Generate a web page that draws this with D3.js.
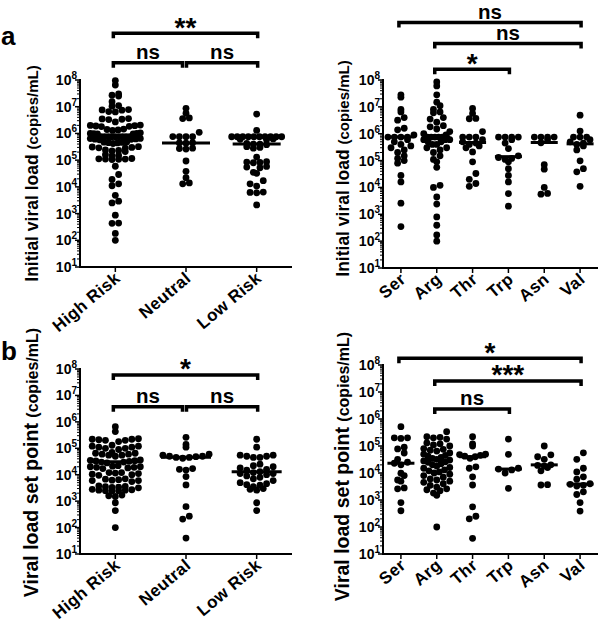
<!DOCTYPE html>
<html><head><meta charset="utf-8">
<script src="https://cdn.jsdelivr.net/npm/d3@7"></script>
<style>body{margin:0;background:#fff}svg{display:block}</style>
</head><body><svg id="c" width="600" height="622"></svg>
<script>
// ---------- categories & ticks ----------
const riskCats = ["High Risk", "Neutral", "Low Risk"];
const aaCats = ["Ser", "Arg", "Thr", "Trp", "Asn", "Val"];
const tickExps = [1, 2, 3, 4, 5, 6, 7, 8];

// ---------- panel a: initial viral load (copies/mL) ----------
const aHigh = [9.5e7, 6.5e7, 3.0e7, 2.7e7, 2.5e7, 1.55e7, 1.1e7, 1.05e7, 7.8e6, 7.6e6, 7.4e6, 6.6e6, 6.4e6, 3.6e6, 3.5e6, 3.4e6, 3.3e6, 2.7e6, 2.05e6, 2.0e6, 1.95e6, 1.9e6, 1.85e6, 1.8e6, 1.45e6, 1.4e6, 1.35e6, 1.3e6, 1.05e6, 1.0e6, 1.0e6, 9.8e5, 9.6e5, 9.5e5, 7.5e5, 7.5e5, 7.5e5, 7.5e5, 7.5e5, 7.5e5, 7.5e5, 7.5e5, 7.5e5, 6.5e5, 6.4e5, 6.2e5, 6.1e5, 6.0e5, 5.8e5, 4.8e5, 4.7e5, 4.6e5, 4.5e5, 4.4e5, 4.2e5, 3.2e5, 3.1e5, 3.0e5, 2.9e5, 2.8e5, 2.4e5, 2.3e5, 2.2e5, 2.1e5, 1.6e5, 1.5e5, 1.45e5, 1.15e5, 1.12e5, 1.1e5, 1.1e5, 1.08e5, 1.05e5, 5.9e4, 2.9e4, 1.9e4, 1.3e4, 1.1e4, 4.8e3, 2.9e3, 2.5e3, 8.7e2, 4.4e2, 4.3e2, 1.8e2, 1.0e2];
const aNeutral = [8.7e6, 5.7e6, 3.8e6, 3.6e6, 1.1e6, 7.6e5, 7.5e5, 7.5e5, 7.5e5, 4.5e5, 4.4e5, 4.3e5, 2.8e5, 2.7e5, 2.6e5, 9.3e4, 3.8e4, 2.2e4, 1.4e4, 1.3e4];
const aLow = [5.3e6, 1.3e6, 7.5e5, 7.5e5, 7.5e5, 7.5e5, 7.5e5, 7.5e5, 7.5e5, 7.5e5, 7.5e5, 7.5e5, 6.2e5, 6.0e5, 5.8e5, 4.2e5, 4.0e5, 4.0e5, 3.8e5, 3.2e5, 3.0e5, 2.8e5, 1.3e5, 8.8e4, 8.5e4, 8.2e4, 8.0e4, 5.8e4, 5.5e4, 5.2e4, 3.5e4, 3.2e4, 1.7e4, 1.3e4, 1.07e4, 6.4e3, 6.2e3, 6.0e3, 2.1e3];
const aRiskMedians = [7.5e5, 4.4e5, 4.0e5];

const aSer = [2.8e7, 2.3e7, 8e6, 6.5e6, 4e6, 3.2e6, 1.6e6, 1.4e6, 9e5, 7.5e5, 7.5e5, 7.5e5, 7.5e5, 6e5, 5e5, 4e5, 3.5e5, 3e5, 2.5e5, 2e5, 1.5e5, 1.2e5, 1e5, 8e4, 2.8e4, 1.6e4, 2.6e3, 3.5e2];
const aArg = [8.5e7, 6e7, 2.8e7, 1.5e7, 1.1e7, 8e6, 6.5e6, 6e6, 4e6, 3.5e6, 2.7e6, 2e6, 1.8e6, 1.5e6, 1.2e6, 1e6, 9e5, 7.5e5, 7.5e5, 7.5e5, 7.5e5, 7.5e5, 6e5, 6e5, 6e5, 5e5, 5e5, 4e5, 4e5, 3e5, 3e5, 2.5e5, 2e5, 1.5e5, 1.1e5, 9e4, 5.6e4, 1.2e4, 1e4, 4.4e3, 2.4e3, 8e2, 3.9e2, 1.7e2, 1e2];
const aThr = [8.7e6, 5.7e6, 3.7e6, 3.6e6, 1.2e6, 7.5e5, 7.5e5, 7.5e5, 6e5, 5e5, 4.5e5, 4e5, 3.5e5, 3e5, 2.1e5, 9e4, 3.3e4, 2e4, 1.4e4, 1.1e4];
const aTrp = [7.5e5, 7.5e5, 7.5e5, 7.5e5, 6e5, 4.5e5, 2.8e5, 1.5e5, 1.3e5, 1.2e5, 1.1e5, 9e4, 5e4, 2.8e4, 1.6e4, 5.9e3, 2e3];
const aAsn = [7.5e5, 7.5e5, 7.5e5, 7.5e5, 6e5, 4.6e5, 7e4, 4.8e4, 1e4, 6e3, 5.6e3];
const aVal = [4.9e6, 1.25e6, 7.5e5, 7.5e5, 7.5e5, 6e5, 5e5, 4.5e5, 4e5, 3.5e5, 2.5e5, 9.8e4, 5e4, 3.8e4, 1.1e4];
const aAAMedians = [7.6e5, 7.6e5, 4.7e5, 1.4e5, 4.7e5, 4.2e5];

// ---------- panel b: viral load set point (copies/mL) ----------
const bHigh = [6.6e5, 4.3e5, 2.3e5, 2.2e5, 2.2e5, 2.1e5, 2.0e5, 2.0e5, 1.8e5, 1.3e5, 1.2e5, 1.2e5, 1.1e5, 1.1e5, 1.0e5, 1.0e5, 9e4, 7e4, 6.5e4, 6.5e4, 6e4, 6e4, 5.5e4, 5.5e4, 5e4, 3.6e4, 3.5e4, 3.4e4, 3.3e4, 3.2e4, 3e4, 3e4, 2.8e4, 2.2e4, 2.1e4, 2e4, 2e4, 1.9e4, 1.9e4, 1.8e4, 1.7e4, 1.2e4, 1.2e4, 1.15e4, 1.1e4, 1.05e4, 1e4, 9.5e3, 7e3, 6.8e3, 6.5e3, 6.2e3, 6e3, 6e3, 5.5e3, 3.8e3, 3.6e3, 3.5e3, 3.4e3, 3.3e3, 3.2e3, 2.8e3, 2.7e3, 2.6e3, 2.6e3, 2.5e3, 2.5e3, 2.4e3, 1.7e3, 1.6e3, 1.5e3, 8.7e2, 4.4e2, 1e2];
const bNeutral = [2.6e5, 1.4e5, 1.1e5, 6e4, 5.5e4, 5e4, 5e4, 4.8e4, 4.5e4, 4.5e4, 4.2e4, 1.7e4, 1.6e4, 1.5e4, 8.5e3, 4.1e3, 6.2e2, 2.7e2, 2.1e2, 4e1];
const bLow = [2.2e5, 1.1e5, 5.5e4, 5.5e4, 5e4, 5e4, 4.5e4, 4.5e4, 2.5e4, 2.2e4, 2e4, 1.8e4, 1.6e4, 1.5e4, 1.3e4, 1.2e4, 1.1e4, 1.1e4, 1e4, 9e3, 8e3, 7e3, 6e3, 5e3, 4.6e3, 4.2e3, 4e3, 3.5e3, 3e3, 2.8e3, 2.6e3, 8.7e2, 4.4e2];
const bRiskMedians = [3.1e4, 4.6e4, 1.3e4];

const bSer = [5.2e5, 2e5, 2e5, 1.9e5, 9e4, 7.8e4, 5.5e4, 3.2e4, 2.5e4, 2.3e4, 2e4, 9.8e3, 8e3, 5.5e3, 5e3, 2.8e3, 2.6e3, 8e2, 4e2];
const bArg = [3.4e5, 2.2e5, 2.1e5, 2e5, 1.8e5, 1.3e5, 1.2e5, 1.1e5, 1e5, 8e4, 7.5e4, 7e4, 6.5e4, 5.5e4, 5e4, 4.5e4, 4.2e4, 3.8e4, 3.5e4, 3.2e4, 3e4, 2.8e4, 2.6e4, 2.5e4, 2.2e4, 2e4, 1.8e4, 1.6e4, 1.5e4, 1.3e4, 1.2e4, 1.1e4, 1e4, 9e3, 8e3, 7e3, 6e3, 5.5e3, 5e3, 4.5e3, 4e3, 3.5e3, 3e3, 2.6e3, 2.4e3, 2.2e3, 1.8e3, 1.5e3, 1e2];
const bThr = [2.2e5, 1.2e5, 1e5, 5e4, 4.8e4, 4.5e4, 4.2e4, 4e4, 3.5e4, 1.7e4, 1.5e4, 7.2e3, 3.6e3, 5.6e2, 2.5e2, 2e2, 3.8e1];
const bTrp = [1.8e5, 4.9e4, 1.5e4, 1.4e4, 1.3e4, 1e4, 2.7e3];
const bAsn = [1e5, 4.7e4, 4e4, 3.2e4, 2e4, 1.9e4, 1.8e4, 1.6e4, 1.2e4, 3.7e3, 3.6e3];
const bVal = [5.6e4, 3.2e4, 1.5e4, 1.1e4, 7.2e3, 5.9e3, 4e3, 3.8e3, 3.5e3, 3.3e3, 2e3, 1.6e3, 8e2, 3.9e2];
const bAAMedians = [2.3e4, 3e4, 4e4, 1.4e4, 2e4, 3.9e3];

// ---------- significance brackets ----------
const aRiskBrackets = [{from: 0, to: 2, label: "**", level: 0}, {from: 0, to: 1, label: "ns", level: 1}, {from: 1, to: 2, label: "ns", level: 1}];
const aAABrackets = [{from: 0, to: 5, label: "ns", level: 0}, {from: 1, to: 5, label: "ns", level: 1}, {from: 1, to: 3, label: "*", level: 2}];
const bRiskBrackets = [{from: 0, to: 2, label: "*", level: 0}, {from: 0, to: 1, label: "ns", level: 1}, {from: 1, to: 2, label: "ns", level: 1}];
const bAABrackets = [{from: 0, to: 5, label: "*", level: 0}, {from: 1, to: 5, label: "***", level: 1}, {from: 1, to: 3, label: "ns", level: 2}];

// ---------- layout ----------
const FONT = "'Liberation Sans', Arial, Helvetica, sans-serif";
const panels = [
  {letter: "a", letterY: 45, x0: 80, x1: 292, yTop: 80, yBot: 267, cats: riskCats, data: [aHigh, aNeutral, aLow], medians: aRiskMedians, brackets: aRiskBrackets, bracketYs: [33.3, 62.7], title: ["Initial viral load", "(copies/mL)"], titleX: 38, titleY: 173.5, titleSizes: [17.5, 15], maxW: 50, medW: 48},
  {x0: 383, x1: 598, yTop: 80, yBot: 268, cats: aaCats, data: [aSer, aArg, aThr, aTrp, aAsn, aVal], medians: aAAMedians, brackets: aAABrackets, bracketYs: [22.5, 43.5, 69.3], title: ["Initial viral load", "(copies/mL)"], titleX: 349, titleY: 168.5, titleSizes: [17.5, 15], maxW: 26, medW: 27},
  {letter: "b", letterY: 360, x0: 80, x1: 292, yTop: 369, yBot: 554, cats: riskCats, data: [bHigh, bNeutral, bLow], medians: bRiskMedians, brackets: bRiskBrackets, bracketYs: [375, 406.7], title: ["Viral load set point", "(copies/mL)"], titleX: 38, titleY: 462.5, titleSizes: [19.5, 16], maxW: 50, medW: 50},
  {x0: 383, x1: 598, yTop: 365, yBot: 554, cats: aaCats, data: [bSer, bArg, bThr, bTrp, bAsn, bVal], medians: bAAMedians, brackets: bAABrackets, bracketYs: [358.3, 381, 409], title: ["Viral load set point", "(copies/mL)"], titleX: 349, titleY: 466.5, titleSizes: [19.5, 16], maxW: 26, medW: 27}
];

const svg = d3.select("#c");
const R = 3.4, SPACING = 6.6, BIN = 7;

function swarm(values, cx, y, maxW, yBot) {
  const bins = d3.group(values.map(v => ({v, py: y(v)})), d => Math.round((yBot - d.py) / BIN));
  const out = [];
  for (const pts of bins.values()) {
    const n = pts.length;
    const sp = n > 1 ? Math.min(SPACING, maxW / (n - 1)) : 0;
    const offs = d3.range(n).map(k => (k - (n - 1) / 2) * sp).sort((a, b) => Math.abs(a) - Math.abs(b) || a - b);
    pts.sort((a, b) => a.v - b.v);
    pts.forEach((p, i) => out.push({x: cx + offs[i], y: p.py}));
  }
  return out;
}

panels.forEach(P => {
  const g = svg.append("g");
  const x = d3.scalePoint().domain(P.cats).range([P.x0, P.x1]).padding(0.5);
  const y = d3.scaleLog().domain([10, 1e8]).range([P.yBot, P.yTop]);

  // axes
  const majors = tickExps.map(e => Math.pow(10, e));
  const minors = [];
  for (let e = 1; e < 8; e++) for (let m = 2; m <= 9; m++) minors.push(m * Math.pow(10, e));
  g.append("g").selectAll("line").data(minors).join("line")
    .attr("x1", P.x0 - 3).attr("x2", P.x0).attr("y1", d => y(d)).attr("y2", d => y(d))
    .attr("stroke", "#000").attr("stroke-width", 1);
  g.append("g").selectAll("line").data(majors).join("line")
    .attr("x1", P.x0 - 5).attr("x2", P.x0).attr("y1", d => y(d)).attr("y2", d => y(d))
    .attr("stroke", "#000").attr("stroke-width", 1.5);
  g.append("line").attr("x1", P.x0).attr("x2", P.x0).attr("y1", y(1e8) - 1).attr("y2", P.yBot + 1)
    .attr("stroke", "#000").attr("stroke-width", 2);
  g.append("line").attr("x1", P.x0 - 1).attr("x2", P.x1).attr("y1", P.yBot).attr("y2", P.yBot)
    .attr("stroke", "#000").attr("stroke-width", 2);
  g.append("g").selectAll("line").data(P.cats).join("line")
    .attr("x1", d => x(d)).attr("x2", d => x(d)).attr("y1", P.yBot).attr("y2", P.yBot + 5)
    .attr("stroke", "#000").attr("stroke-width", 1.5);

  // tick labels 10^n
  const tl = g.append("g").selectAll("text").data(tickExps).join("text")
    .attr("x", P.x0 - 3).attr("y", d => y(Math.pow(10, d)) + 5)
    .attr("text-anchor", "end").attr("font-family", FONT).attr("font-weight", "bold").attr("font-size", 14);
  tl.append("tspan").text("10");
  tl.append("tspan").attr("dy", -6).attr("font-size", 10).text(d => d);

  // category labels
  g.append("g").selectAll("text").data(P.cats).join("text")
    .attr("transform", d => `translate(${x(d) + 6},${P.yBot + 13}) rotate(-40)`)
    .attr("text-anchor", "end").attr("font-family", FONT).attr("font-weight", "bold")
    .attr("font-size", 17).attr("letter-spacing", 0.4)
    .text(d => d);

  // y title
  const tt = g.append("text").attr("transform", `translate(${P.titleX},${P.titleY}) rotate(-90)`)
    .attr("text-anchor", "middle").attr("font-family", FONT).attr("font-weight", "bold");
  tt.append("tspan").attr("font-size", P.titleSizes[0]).text(P.title[0] + " ");
  tt.append("tspan").attr("font-size", P.titleSizes[1]).text(P.title[1]);

  if (P.letter) {
    g.append("text").attr("x", 1).attr("y", P.letterY).attr("font-family", FONT)
      .attr("font-weight", "bold").attr("font-size", 26).text(P.letter);
  }

  // dots
  P.data.forEach((vals, i) => {
    const cx = x(P.cats[i]);
    g.append("g").selectAll("circle").data(swarm(vals, cx, y, P.maxW, P.yBot)).join("circle")
      .attr("cx", d => d.x).attr("cy", d => d.y).attr("r", R).attr("fill", "#000");
  });

  // medians
  g.append("g").selectAll("line").data(P.medians).join("line")
    .attr("x1", (d, i) => x(P.cats[i]) - P.medW / 2).attr("x2", (d, i) => x(P.cats[i]) + P.medW / 2)
    .attr("y1", d => y(d)).attr("y2", d => y(d)).attr("stroke", "#000").attr("stroke-width", 3);

  // brackets
  P.brackets.forEach(b => {
    const ly = P.bracketYs[b.level];
    const adjRight = P.brackets.some(o => o !== b && o.level === b.level && o.from === b.to);
    const adjLeft = P.brackets.some(o => o !== b && o.level === b.level && o.to === b.from);
    const bx1 = x(P.cats[b.from]) + (adjLeft ? 0.5 : -2);
    const bx2 = x(P.cats[b.to]) + (adjRight ? -3.5 : 1);
    g.append("path").attr("d", `M${bx1},${ly + 5}V${ly}H${bx2}V${ly + 5}`)
      .attr("fill", "none").attr("stroke", "#000").attr("stroke-width", 3.5).attr("stroke-linejoin", "miter");
    const star = b.label.startsWith("*");
    g.append("text").attr("x", (bx1 + bx2) / 2).attr("y", star ? ly + 3.2 : ly - 4)
      .attr("text-anchor", "middle").attr("font-family", FONT).attr("font-weight", "bold")
      .attr("font-size", star ? 28 : 20.5).text(b.label);
  });
});
</script>
</body></html>
